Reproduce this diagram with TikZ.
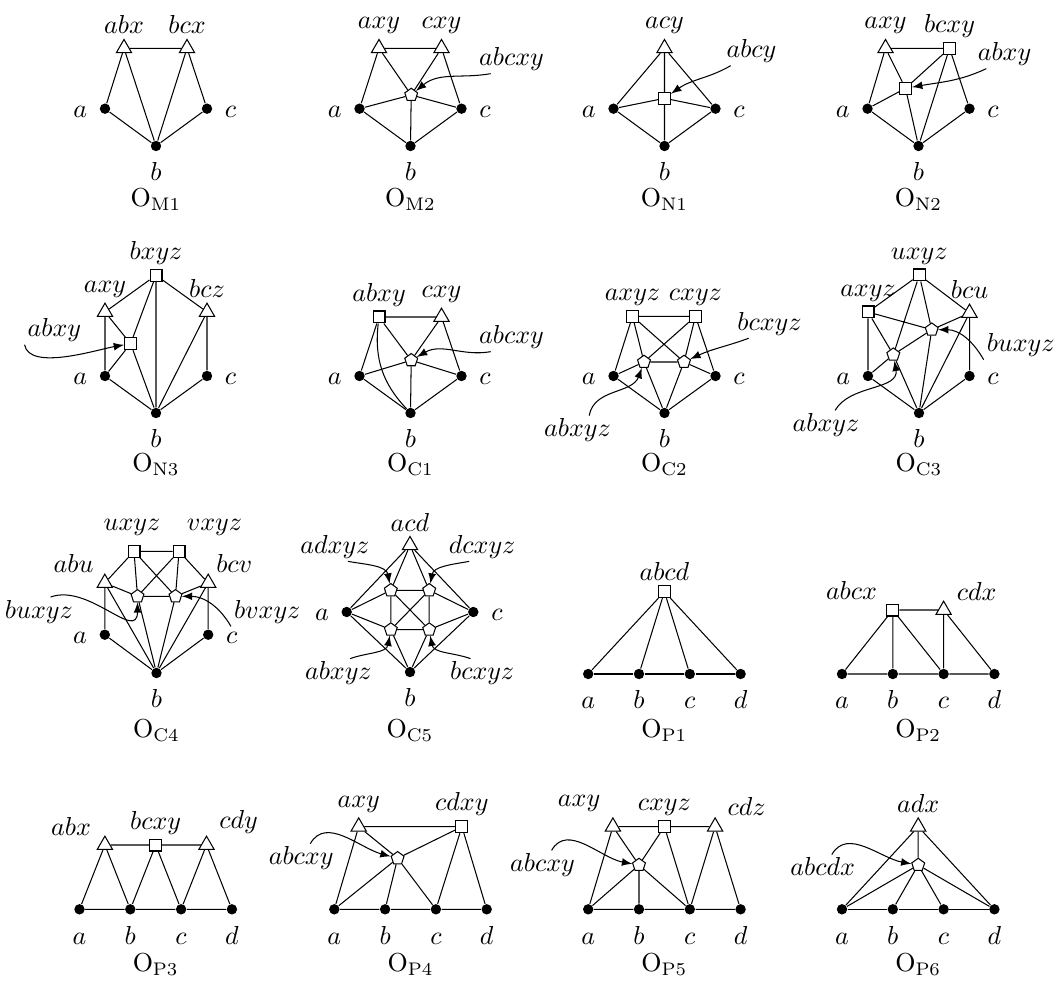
\documentclass[tikz,border=0pt]{standalone}
\usetikzlibrary{shapes.geometric}
\tikzset{
  dot/.style={circle,fill=black,inner sep=0pt,minimum size=4pt},
  tri/.style={regular polygon,regular polygon sides=3,draw,fill=white,inner sep=0pt,minimum size=6.8pt},
  sq/.style={rectangle,draw,fill=white,inner sep=0pt,minimum size=4.6pt},
  pent/.style={regular polygon,regular polygon sides=5,draw,fill=white,inner sep=0pt,minimum size=5.2pt},
  dl/.style={inner sep=4.5pt},
  tag/.style={inner sep=1pt},
  ptr/.style={-latex},
  every label/.style={inner sep=1.5pt,text height=1.5ex}
}
\begin{document}
\begin{tikzpicture}[x=0.3846pt,y=-0.3846pt]
  \useasboundingbox (0,0) rectangle (1061,982);
  % ---------- row 1 ----------
  \begin{scope}[shift={(156,146)}]% O_M1
    \node[dot,label={[dl]left:$a$}]  (m1a) at (-51,-37.3) {};
    \node[dot,label={[dl]below:$b$}] (m1b) at (0,0) {};
    \node[dot,label={[dl]right:$c$}] (m1c) at (51,-37.3) {};
    \node[tri,label=above:$abx$] (m1t1) at (-32,-97.7) {};
    \node[tri,label=above:$bcx$] (m1t2) at (31,-97.7) {};
    \draw (m1t1) -- (m1t2) (m1t1) -- (m1a) (m1t1) -- (m1b) (m1t2) -- (m1b) (m1t2) -- (m1c) (m1a) -- (m1b) -- (m1c);
    \node (m1cap) at (0,54) {$\mathrm{O}_{\mathrm{M1}}$};
  \end{scope}
  \begin{scope}[shift={(410.5,146)}]% O_M2
    \node[dot,label={[dl]left:$a$}]  (m2a) at (-51,-37.3) {};
    \node[dot,label={[dl]below:$b$}] (m2b) at (0,0) {};
    \node[dot,label={[dl]right:$c$}] (m2c) at (51,-37.3) {};
    \node[tri,label=above:$axy$] (m2t1) at (-31.5,-97.7) {};
    \node[tri,label=above:$cxy$] (m2t2) at (31,-97.7) {};
    \node[pent] (m2p) at (0.7,-51) {};
    \draw (m2t1) -- (m2t2) (m2t1) -- (m2a) (m2t1) -- (m2p) (m2t2) -- (m2p) (m2t2) -- (m2c)
          (m2a) -- (m2p) (m2c) -- (m2p) (m2b) -- (m2p) (m2a) -- (m2b) -- (m2c);
    \node[tag] (m2l) at (101,-87) {$abcxy$};
    \draw[ptr] ([xshift=-8pt]m2l.south) to[out=190,in=40] (m2p);
    \node (m2cap) at (0,54) {$\mathrm{O}_{\mathrm{M2}}$};
  \end{scope}
  \begin{scope}[shift={(664.5,146)}]% O_N1
    \node[dot,label={[dl]left:$a$}]  (n1a) at (-51,-37.3) {};
    \node[dot,label={[dl]below:$b$}] (n1b) at (0,0) {};
    \node[dot,label={[dl]right:$c$}] (n1c) at (51,-37.3) {};
    \node[tri,label=above:$acy$] (n1t) at (0,-97.7) {};
    \node[sq] (n1s) at (0,-47.7) {};
    \draw (n1t) -- (n1a) (n1t) -- (n1c) (n1t) -- (n1s) -- (n1b) (n1a) -- (n1s) -- (n1c) (n1a) -- (n1b) -- (n1c);
    \node[tag] (n1l) at (87,-95) {$abcy$};
    \draw[ptr] ([xshift=-8pt]n1l.south) to[out=-150,in=35] (n1s);
    \node (n1cap) at (0,54) {$\mathrm{O}_{\mathrm{N1}}$};
  \end{scope}
  \begin{scope}[shift={(918.5,146)}]% O_N2
    \node[dot,label={[dl]left:$a$}]  (n2a) at (-51,-37.3) {};
    \node[dot,label={[dl]below:$b$}] (n2b) at (0,0) {};
    \node[dot,label={[dl]right:$c$}] (n2c) at (51,-37.3) {};
    \node[tri,label=above:$axy$] (n2t) at (-33,-97.7) {};
    \node[sq,label=above:$bcxy$] (n2s1) at (31,-97.7) {};
    \node[sq] (n2s2) at (-13,-57.7) {};
    \draw (n2t) -- (n2s1) (n2t) -- (n2a) (n2t) -- (n2s2) (n2s1) -- (n2s2) (n2s1) -- (n2b) (n2s1) -- (n2c)
          (n2a) -- (n2s2) -- (n2b) (n2a) -- (n2b) -- (n2c);
    \node[tag] (n2l) at (86,-92) {$abxy$};
    \draw[ptr] ([xshift=-7pt]n2l.south) to[out=-155,in=10] (n2s2);
    \node (n2cap) at (0,54) {$\mathrm{O}_{\mathrm{N2}}$};
  \end{scope}
  % ---------- row 2 ----------
  \begin{scope}[shift={(156,413)}]% O_N3
    \node[dot,label={[dl]left:$a$}]  (n3a) at (-51,-37) {};
    \node[dot,label={[dl]below:$b$}] (n3b) at (0,0) {};
    \node[dot,label={[dl]right:$c$}] (n3c) at (51,-37) {};
    \node[sq,label=above:$bxyz$] (n3s1) at (0,-137.7) {};
    \node[tri,label=above:$axy$] (n3t1) at (-51,-101) {};
    \node[tri,label=above:$bcz$] (n3t2) at (51,-101) {};
    \node[sq] (n3s2) at (-25.4,-69.3) {};
    \draw (n3t1) -- (n3a) (n3t1) -- (n3s1) (n3t1) -- (n3s2) (n3s1) -- (n3s2) (n3s1) -- (n3b) (n3s1) -- (n3t2)
          (n3t2) -- (n3b) (n3t2) -- (n3c) (n3a) -- (n3s2) -- (n3b) (n3a) -- (n3b) -- (n3c);
    \node[tag] (n3l) at (-101.6,-83) {$abxy$};
    \draw[ptr] (n3l.south west) to[out=-80,in=190,looseness=.7] (n3s2);
    \node (n3cap) at (0,52) {$\mathrm{O}_{\mathrm{N3}}$};
  \end{scope}
  \begin{scope}[shift={(410.5,413)}]% O_C1
    \node[dot,label={[dl]left:$a$}]  (c1a) at (-51,-37) {};
    \node[dot,label={[dl]below:$b$}] (c1b) at (0,0) {};
    \node[dot,label={[dl]right:$c$}] (c1c) at (51,-37) {};
    \node[sq,label=above:$abxy$] (c1s) at (-31.5,-96) {};
    \node[tri,label=above:$cxy$] (c1t) at (31,-96) {};
    \node[pent] (c1p) at (0.7,-52.7) {};
    \draw (c1s) -- (c1t) (c1s) -- (c1a) (c1s) -- (c1p) (c1t) -- (c1p) (c1t) -- (c1c)
          (c1a) -- (c1p) (c1c) -- (c1p) (c1b) -- (c1p) (c1a) -- (c1b) -- (c1c);
    \draw (c1s) to[bend right=25] (c1b);
    \node[tag] (c1l) at (101,-76) {$abcxy$};
    \draw[ptr] ([xshift=-8pt]c1l.south) to[out=190,in=30] (c1p);
    \node (c1cap) at (0,52) {$\mathrm{O}_{\mathrm{C1}}$};
  \end{scope}
  \begin{scope}[shift={(664.5,413)}]% O_C2
    \node[dot,label={[dl]left:$a$}]  (c2a) at (-51,-37) {};
    \node[dot,label={[dl]below:$b$}] (c2b) at (0,0) {};
    \node[dot,label={[dl]right:$c$}] (c2c) at (51,-37) {};
    \node[sq,label=above:$axyz$] (c2s1) at (-32,-96.7) {};
    \node[sq,label=above:$cxyz$] (c2s2) at (31,-96.7) {};
    \node[pent] (c2p1) at (-20.5,-51) {};
    \node[pent] (c2p2) at (19.5,-51) {};
    \draw (c2s1) -- (c2s2) (c2s1) -- (c2a) (c2s1) -- (c2p1) (c2s1) -- (c2p2) (c2s2) -- (c2p1) (c2s2) -- (c2p2) (c2s2) -- (c2c)
          (c2p1) -- (c2p2) (c2a) -- (c2p1) -- (c2b) (c2c) -- (c2p2) -- (c2b) (c2a) -- (c2b) -- (c2c);
    \node[tag] (c2l1) at (105,-89.4) {$bcxyz$};
    \node[tag] (c2l2) at (-87,17.3) {$abxyz$};
    \draw[ptr] ([xshift=-8pt]c2l1.south) to[out=-160,in=25] (c2p2);
    \draw[ptr] ([xshift=4.5pt]c2l2.north) to[out=80,in=-110] (c2p1);
    \node (c2cap) at (0,52) {$\mathrm{O}_{\mathrm{C2}}$};
  \end{scope}
  \begin{scope}[shift={(919,413)}]% O_C3
    \node[dot,label={[dl]left:$a$}]  (c3a) at (-51,-37) {};
    \node[dot,label={[dl]below:$b$}] (c3b) at (0,0) {};
    \node[dot,label={[dl]right:$c$}] (c3c) at (50.5,-37) {};
    \node[sq,label=above:$uxyz$] (c3s1) at (0.3,-138) {};
    \node[sq,label=above:$axyz$] (c3s2) at (-51,-101) {};
    \node[tri,label=above:$bcu$] (c3t) at (50.5,-100) {};
    \node[pent] (c3p1) at (-25.7,-58.3) {};
    \node[pent] (c3p2) at (12.7,-83.3) {};
    \draw (c3s2) -- (c3s1) -- (c3t) (c3s2) -- (c3a) (c3t) -- (c3c) (c3s2) -- (c3p2) (c3s2) -- (c3p1)
          (c3s1) -- (c3p1) (c3s1) -- (c3p2) (c3t) -- (c3p2) (c3t) -- (c3b) (c3p1) -- (c3p2)
          (c3a) -- (c3p1) -- (c3b) (c3p2) -- (c3b) (c3a) -- (c3b) -- (c3c);
    \node[tag] (c3l1) at (101.7,-68) {$buxyz$};
    \node[tag] (c3l2) at (-93,12) {$abxyz$};
    \draw[ptr] (c3l1.south west) to[out=120,in=0] (c3p2);
    \draw[ptr] ([xshift=3.5pt]c3l2.north) to[out=60,in=-80] (c3p1);
    \node (c3cap) at (0,52) {$\mathrm{O}_{\mathrm{C3}}$};
  \end{scope}
  % ---------- row 3 ----------
  \begin{scope}[shift={(156.5,673)}]% O_C4
    \node[dot,label={[dl]left:$a$}]  (c4a) at (-51.7,-38.3) {};
    \node[dot,label={[dl]below:$b$}] (c4b) at (0,0) {};
    \node[dot,label={[dl]right:$c$}] (c4c) at (51.7,-38.3) {};
    \node[sq] (c4s1) at (-22.5,-121.7) {};
    \node[sq] (c4s2) at (22.5,-121.7) {};
    \node[tri] (c4t1) at (-51.7,-90) {};
    \node[tri] (c4t2) at (51.7,-90) {};
    \node[pent] (c4p1) at (-19,-76.7) {};
    \node[pent] (c4p2) at (19,-76.7) {};
    \node (c4s1l) at (-24.5,-146) {$uxyz$};
    \node (c4s2l) at (58,-146) {$vxyz$};
    \node (c4t1l) at (-82.9,-109.7) {$abu$};
    \node (c4t2l) at (77.8,-109.7) {$bcv$};
    \draw (c4s1) -- (c4s2) (c4s1) -- (c4t1) (c4s1) -- (c4p1) (c4s1) -- (c4p2) (c4s2) -- (c4p1) (c4s2) -- (c4p2) (c4s2) -- (c4t2)
          (c4t1) -- (c4p1) (c4t1) -- (c4a) (c4t1) -- (c4b) (c4t2) -- (c4p2) (c4t2) -- (c4c) (c4t2) -- (c4b)
          (c4p1) -- (c4p2) (c4p1) -- (c4b) (c4p2) -- (c4b) (c4a) -- (c4b) -- (c4c);
    \node[tag] (c4l1) at (-117.6,-61.3) {$buxyz$};
    \node[tag] (c4l2) at (110.8,-61.3) {$bvxyz$};
    \draw[ptr] ([xshift=4.5pt]c4l1.north) to[out=20,in=-90,looseness=1.2] (c4p1);
    \draw[ptr] (c4l2.south west) to[out=120,in=0] (c4p2);
    \node (c4cap) at (0,58) {$\mathrm{O}_{\mathrm{C4}}$};
  \end{scope}
  \begin{scope}[shift={(410,672)}]% O_C5
    \node[dot,label={[dl]left:$a$}]  (c5a) at (-63.3,-60) {};
    \node[dot,label={[dl]below:$b$}] (c5b) at (0,0) {};
    \node[dot,label={[dl]right:$c$}] (c5c) at (63.3,-60) {};
    \node[tri,label=above:$acd$] (c5t) at (0,-126.7) {};
    \node[pent] (c5p1) at (-19.2,-81.7) {};
    \node[pent] (c5p2) at (19.2,-81.7) {};
    \node[pent] (c5p3) at (-19.2,-42.4) {};
    \node[pent] (c5p4) at (19.2,-42.4) {};
    \draw (c5t) -- (c5a) (c5t) -- (c5c) (c5t) -- (c5p1) (c5t) -- (c5p2)
          (c5p1) -- (c5p2) -- (c5p4) -- (c5p3) -- (c5p1) (c5p1) -- (c5p4) (c5p2) -- (c5p3)
          (c5a) -- (c5p1) (c5a) -- (c5p3) (c5c) -- (c5p2) (c5c) -- (c5p4)
          (c5p3) -- (c5b) (c5p4) -- (c5b) (c5a) -- (c5b) -- (c5c);
    \node[tag] (c5l1) at (-75,-125.3) {$adxyz$};
    \node[tag] (c5l2) at (72.2,-125.3) {$dcxyz$};
    \node[tag] (c5l3) at (-71.6,1.3) {$abxyz$};
    \node[tag] (c5l4) at (72.2,1.3) {$bcxyz$};
    \draw[ptr] ([xshift=5pt]c5l1.south) to[out=-10,in=100] (c5p1);
    \draw[ptr] ([xshift=-5pt]c5l2.south) to[out=190,in=80] (c5p2);
    \draw[ptr] ([xshift=4.5pt]c5l3.north) to[out=20,in=-100] (c5p3);
    \draw[ptr] ([xshift=-4.5pt]c5l4.north) to[out=160,in=-80] (c5p4);
    \node (c5cap) at (0,59) {$\mathrm{O}_{\mathrm{C5}}$};
  \end{scope}
  \begin{scope}[shift={(664.4,674)}]% O_P1
    \foreach \n/\x in {a/-76.2,b/-25.4,c/25.4,d/76.2}
      \node[dot,label={[dl]below:$\n$}] (p1\n) at (\x,0) {};
    \node[sq,label=above:$abcd$] (p1s) at (0,-82.3) {};
    \foreach \n in {a,b,c,d}
      \draw (p1s) -- (p1\n);
    \draw (p1a) -- (p1b) -- (p1c) -- (p1d);
    \node (p1cap) at (0,57) {$\mathrm{O}_{\mathrm{P1}}$};
  \end{scope}
  \begin{scope}[shift={(918.2,674)}]% O_P2
    \foreach \n/\x in {a/-76.2,b/-25.4,c/25.4,d/76.2}
      \node[dot,label={[dl]below:$\n$}] (p2\n) at (\x,0) {};
    \node[sq] (p2s) at (-25.4,-64) {};
    \node[tri] (p2t) at (25.4,-64) {};
    \node (p2sl) at (-66.7,-84) {$abcx$};
    \node (p2tl) at (58.5,-82.3) {$cdx$};
    \draw (p2s) -- (p2t) (p2s) -- (p2a) (p2s) -- (p2b) (p2s) -- (p2c) (p2t) -- (p2c) (p2t) -- (p2d)
          (p2a) -- (p2b) -- (p2c) -- (p2d);
    \node (p2cap) at (0,57) {$\mathrm{O}_{\mathrm{P2}}$};
  \end{scope}
  % ---------- row 4 ----------
  \begin{scope}[shift={(155.7,909.3)}]% O_P3
    \foreach \n/\x in {a/-76.2,b/-25.4,c/25.4,d/76.2}
      \node[dot,label={[dl]below:$\n$}] (p3\n) at (\x,0) {};
    \node[tri] (p3t1) at (-50.8,-64.3) {};
    \node[sq,label=above:$bcxy$] (p3s) at (0,-64.3) {};
    \node[tri] (p3t2) at (50.8,-64.3) {};
    \node (p3t1l) at (-84.7,-82.6) {$abx$};
    \node (p3t2l) at (82.9,-87.6) {$cdy$};
    \draw (p3t1) -- (p3s) -- (p3t2) (p3t1) -- (p3a) (p3t1) -- (p3b) (p3s) -- (p3b) (p3s) -- (p3c)
          (p3t2) -- (p3c) (p3t2) -- (p3d) (p3a) -- (p3b) -- (p3c) -- (p3d);
    \node (p3cap) at (0,55.7) {$\mathrm{O}_{\mathrm{P3}}$};
  \end{scope}
  \begin{scope}[shift={(410.5,909.3)}]% O_P4
    \foreach \n/\x in {a/-76.2,b/-25.4,c/25.4,d/76.2}
      \node[dot,label={[dl]below:$\n$}] (p4\n) at (\x,0) {};
    \node[tri,label=above:$axy$] (p4t) at (-51.8,-82.6) {};
    \node[sq,label=above:$cdxy$] (p4s) at (51.4,-82.6) {};
    \node[pent] (p4p) at (-12.9,-51) {};
    \draw (p4t) -- (p4s) (p4t) -- (p4a) (p4t) -- (p4p) (p4s) -- (p4p) (p4s) -- (p4c) (p4s) -- (p4d)
          (p4a) -- (p4p) (p4b) -- (p4p) (p4c) -- (p4p) (p4a) -- (p4b) -- (p4c) -- (p4d);
    \node[tag] (p4l) at (-109.3,-51) {$abcxy$};
    \draw[ptr] ([xshift=3.5pt]p4l.north) to[out=60,in=165] (p4p);
    \node (p4cap) at (0,55.7) {$\mathrm{O}_{\mathrm{P4}}$};
  \end{scope}
  \begin{scope}[shift={(664.4,909.3)}]% O_P5
    \foreach \n/\x in {a/-76.2,b/-25.4,c/25.4,d/76.2}
      \node[dot,label={[dl]below:$\n$}] (p5\n) at (\x,0) {};
    \node[tri] (p5t1) at (-51.5,-82.6) {};
    \node[sq,label=above:$cxyz$] (p5s) at (0,-82.6) {};
    \node[tri] (p5t2) at (50.7,-82.6) {};
    \node[pent] (p5p) at (-25.4,-44.3) {};
    \node (p5t1l) at (-85.3,-106) {$axy$};
    \node (p5t2l) at (82.2,-102.6) {$cdz$};
    \draw (p5t1) -- (p5s) -- (p5t2) (p5t1) -- (p5a) (p5t1) -- (p5p) (p5s) -- (p5p) (p5s) -- (p5c)
          (p5t2) -- (p5c) (p5t2) -- (p5d) (p5a) -- (p5p) (p5b) -- (p5p) (p5c) -- (p5p)
          (p5a) -- (p5b) -- (p5c) -- (p5d);
    \node[tag] (p5l) at (-121.9,-44.3) {$abcxy$};
    \draw[ptr] ([xshift=3.5pt]p5l.north) to[out=60,in=170] (p5p);
    \node (p5cap) at (0,55.7) {$\mathrm{O}_{\mathrm{P5}}$};
  \end{scope}
  \begin{scope}[shift={(918.2,909.3)}]% O_P6
    \foreach \n/\x in {a/-76.2,b/-25.4,c/25.4,d/76.2}
      \node[dot,label={[dl]below:$\n$}] (p6\n) at (\x,0) {};
    \node[tri,label=above:$adx$] (p6t) at (0,-82.6) {};
    \node[pent] (p6p) at (0,-44.3) {};
    \draw (p6t) -- (p6a) (p6t) -- (p6d) (p6t) -- (p6p);
    \foreach \n in {a,b,c,d}
      \draw (p6p) -- (p6\n);
    \draw (p6a) -- (p6b) -- (p6c) -- (p6d);
    \node[tag] (p6l) at (-95.5,-42.6) {$abcdx$};
    \draw[ptr] ([xshift=3.5pt]p6l.north) to[out=60,in=170] (p6p);
    \node (p6cap) at (0,55.7) {$\mathrm{O}_{\mathrm{P6}}$};
  \end{scope}
\end{tikzpicture}
\end{document}
